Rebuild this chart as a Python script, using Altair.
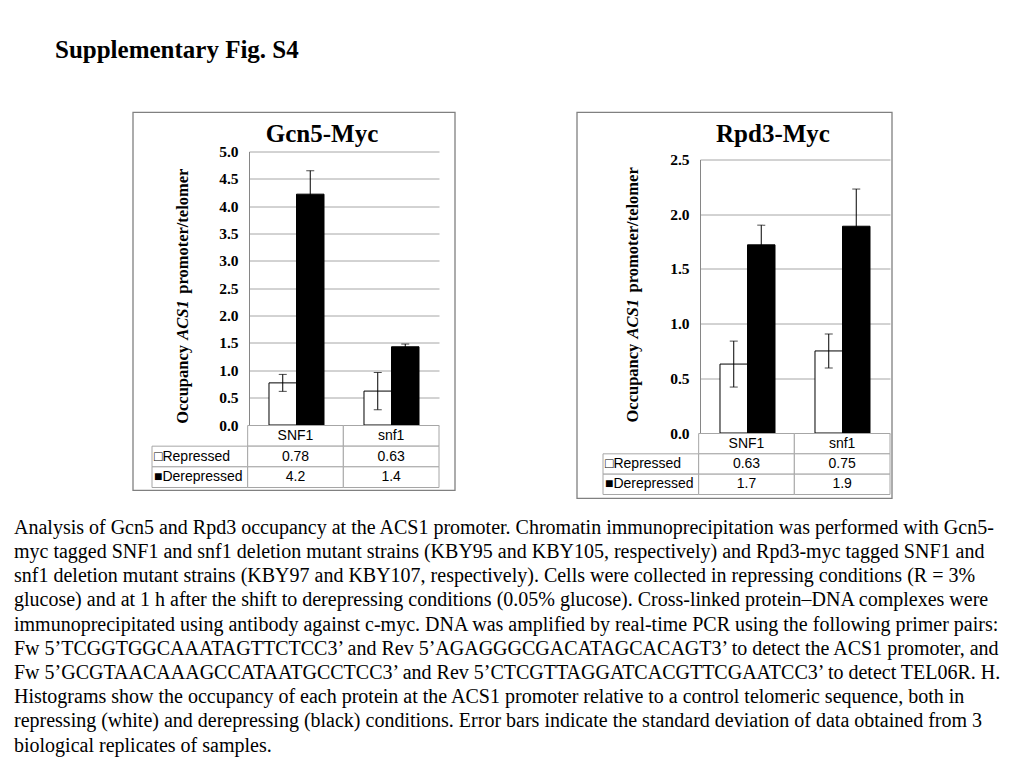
import altair as alt
import pandas as pd

# ---------------- data ----------------
strains = ["SNF1", "snf1"]
conditions = ["Repressed", "Derepressed"]
label_texts = ["\u25a1Repressed", "\u25a0Derepressed"]

# order: SNF1-Repressed, SNF1-Derepressed, snf1-Repressed, snf1-Derepressed
gcn5_mean = [0.77, 4.22, 0.62, 1.43]
gcn5_sd = [0.155, 0.43, 0.34, 0.05]
gcn5_table = ["0.78", "4.2", "0.63", "1.4"]
gcn5_ticks = [0.0, 0.5, 1.0, 1.5, 2.0, 2.5, 3.0, 3.5, 4.0, 4.5, 5.0]

rpd3_mean = [0.63, 1.72, 0.75, 1.89]
rpd3_sd = [0.21, 0.18, 0.155, 0.34]
rpd3_table = ["0.63", "1.7", "0.75", "1.9"]
rpd3_ticks = [0.0, 0.5, 1.0, 1.5, 2.0, 2.5]

page_title = "Supplementary Fig. S4"
panel_titles = ["Gcn5-Myc", "Rpd3-Myc"]
ytitle_parts = ["Occupancy ", "ACS1", "promoter/telomer"]

caption_lines = [
    "Analysis of Gcn5 and Rpd3 occupancy at the ACS1 promoter. Chromatin immunoprecipitation was performed with Gcn5-",
    "myc tagged SNF1 and snf1 deletion mutant strains (KBY95 and KBY105, respectively) and Rpd3-myc tagged SNF1 and",
    "snf1 deletion mutant strains (KBY97 and KBY107, respectively). Cells were collected in repressing conditions (R = 3%",
    "glucose) and at 1 h after the shift to derepressing conditions (0.05% glucose). Cross-linked protein\u2013DNA complexes were",
    "immunoprecipitated using antibody against c-myc. DNA was amplified by real-time PCR using the following primer pairs:",
    "Fw 5\u2019TCGGTGGCAAATAGTTCTCC3\u2019 and Rev 5\u2019AGAGGGCGACATAGCACAGT3\u2019 to detect the ACS1 promoter, and",
    "Fw 5\u2019GCGTAACAAAGCCATAATGCCTCC3\u2019 and Rev 5\u2019CTCGTTAGGATCACGTTCGAATCC3\u2019 to detect TEL06R. H.",
    "Histograms show the occupancy of each protein at the ACS1 promoter relative to a control telomeric sequence, both in",
    "repressing (white) and derepressing (black) conditions. Error bars indicate the standard deviation of data obtained from 3",
    "biological replicates of samples.",
]

SERIF = "Liberation Serif"
SANS = "Liberation Sans"
one = pd.DataFrame({"k": [0]})


def deco_text(text, x, y, **props):
    return alt.Chart(one).mark_text(text=text, color="black", **props).encode(
        x=alt.value(x), y=alt.value(y)
    )


def make_panel(title, mean, sd, table_vals, ymax, ticks, height, top_off,
               table_h, ytx, yty, frame, extra=None):
    rows = []
    i = 0
    for s in strains:
        for c in conditions:
            rows.append({"strain": s, "cond": c, "mean": mean[i],
                         "lo": mean[i] - sd[i], "hi": mean[i] + sd[i]})
            i += 1
    df = pd.DataFrame(rows)

    yscale = alt.Scale(domain=[0, ymax], range=[height, top_off], nice=False)
    yaxis = alt.Axis(values=ticks, format=".1f", labelFont=SERIF,
                     labelFontWeight="bold", labelFontSize=15.5,
                     labelColor="black", ticks=False, labelPadding=11,
                     domainColor="#868686", gridColor="#a6a6a6",
                     title=None, labelOverlap=False)
    xenc = alt.X("strain:N", scale=alt.Scale(domain=strains, paddingInner=0,
                                             paddingOuter=0), axis=None)
    xoff = alt.XOffset("cond:N", scale=alt.Scale(domain=conditions,
                                                 paddingInner=0,
                                                 paddingOuter=0.727))

    bars = alt.Chart(df).mark_bar(stroke="black", strokeWidth=1).encode(
        x=xenc, xOffset=xoff,
        y=alt.Y("mean:Q", scale=yscale, axis=yaxis),
        fill=alt.Fill("cond:N", scale=alt.Scale(domain=conditions,
                                                range=["white", "black"]),
                      legend=None),
    )
    err = alt.Chart(df).mark_rule(color="black", strokeWidth=1).encode(
        x=xenc, xOffset=xoff,
        y=alt.Y("lo:Q", scale=yscale, axis=yaxis), y2="hi:Q",
    )
    cap_hi = alt.Chart(df).mark_tick(color="black", thickness=1, size=8).encode(
        x=xenc, xOffset=xoff, y=alt.Y("hi:Q", scale=yscale, axis=yaxis))
    cap_lo = alt.Chart(df).mark_tick(color="black", thickness=1, size=8).encode(
        x=xenc, xOffset=xoff, y=alt.Y("lo:Q", scale=yscale, axis=yaxis))

    decos = [
        deco_text(title, 73, -10, font=SERIF, fontSize=25, fontWeight="bold",
                  align="center", baseline="alphabetic"),
        deco_text(ytitle_parts[0], ytx, yty[0], font=SERIF, fontSize=16.5,
                  fontWeight="bold", angle=270, align="left", baseline="middle"),
        deco_text(ytitle_parts[1], ytx, yty[1], font=SERIF, fontSize=16.5,
                  fontWeight="bold", fontStyle="italic", angle=270,
                  align="left", baseline="middle"),
        deco_text(ytitle_parts[2], ytx, yty[2], font=SERIF, fontSize=16.5,
                  fontWeight="bold", angle=270, align="left", baseline="middle"),
    ]
    if extra is not None:
        decos.append(extra)

    bar_chart = alt.layer(bars, err, cap_hi, cap_lo, *decos).properties(
        width=190, height=height)

    # ---- data table below the bars ----
    trows = []
    for s in strains:
        trows.append({"col": s, "row": "header", "text": s})
    for j, c in enumerate(conditions):
        trows.append({"col": "label", "row": c, "text": label_texts[j]})
        for k, s in enumerate(strains):
            trows.append({"col": s, "row": c, "text": table_vals[k * 2 + j]})
    tdf = pd.DataFrame(trows)

    tscale = alt.Scale(domain=["label"] + strains, range=[-97, 190],
                       paddingInner=0, paddingOuter=0)
    tx = alt.X("col:N", scale=tscale, axis=None)
    ty = alt.Y("row:N", scale=alt.Scale(domain=["header"] + conditions,
                                        paddingInner=0, paddingOuter=0),
               axis=None)
    cells = alt.Chart(tdf).mark_rect(fill="white", stroke="#a6a6a6",
                                     strokeWidth=1).encode(x=tx, y=ty)
    vals = alt.Chart(tdf).transform_filter("datum.col != 'label'").mark_text(
        font=SANS, fontSize=14, color="black", baseline="middle").encode(
        x=tx, y=ty, text="text:N")
    labs = alt.Chart(tdf).transform_filter("datum.col == 'label'").mark_text(
        font=SANS, fontSize=14, color="black", baseline="middle",
        align="left", dx=2).encode(
        x=alt.X("col:N", scale=tscale, axis=None, bandPosition=0),
        y=ty, text="text:N")
    fr = alt.Chart(one).mark_rect(fillOpacity=0, stroke="#808080",
                                  strokeWidth=1.3).encode(
        x=alt.value(frame[0]), x2=alt.value(frame[1]),
        y=alt.value(frame[2]), y2=alt.value(frame[3]))
    table_chart = alt.layer(cells, vals, labs, fr).properties(
        width=190, height=table_h)

    return alt.vconcat(bar_chart, table_chart, spacing=0, bounds="flush")


title_layer = deco_text(page_title, -194, -93.2, font=SERIF, fontSize=25,
                        fontWeight="bold", align="left", baseline="alphabetic")

panel1 = make_panel(panel_titles[0], gcn5_mean, gcn5_sd, gcn5_table, 5.0,
                    gcn5_ticks, 273.5, 0, 62, -66, [272.3, 188.3, 142.3],
                    [-116, 206, -313.2, 64.8], extra=title_layer)
panel2 = make_panel(panel_titles[1], rpd3_mean, rpd3_sd, rpd3_table, 2.5,
                    rpd3_ticks, 281.5, 8, 61, -67, [271.0, 187.0, 141.0],
                    [-123, 192, -321.2, 64.8])

# nested concat groups count as zero-size in a flush layout, so the spacing
# carries the full offset between the panels' plot origins
row = alt.hconcat(panel1, panel2, spacing=451, bounds="flush")

cap_df = pd.DataFrame({"i": list(range(len(caption_lines))),
                       "text": caption_lines})
caption = alt.Chart(cap_df).mark_text(
    font=SERIF, fontSize=20, color="black", align="left",
    baseline="alphabetic").encode(
    x=alt.value(-235),
    y=alt.Y("i:Q", scale=alt.Scale(domain=[0, 9], range=[0, 217.8]),
            axis=None),
    text="text:N",
).properties(width=190, height=218)

chart = alt.vconcat(row, caption, spacing=382.3, bounds="flush").properties(
    padding={"left": 6, "top": 29.5, "right": 0, "bottom": 0}
).configure_view(strokeWidth=0)

chart.save("out.html", embed_options={"renderer": "svg", "actions": False})
